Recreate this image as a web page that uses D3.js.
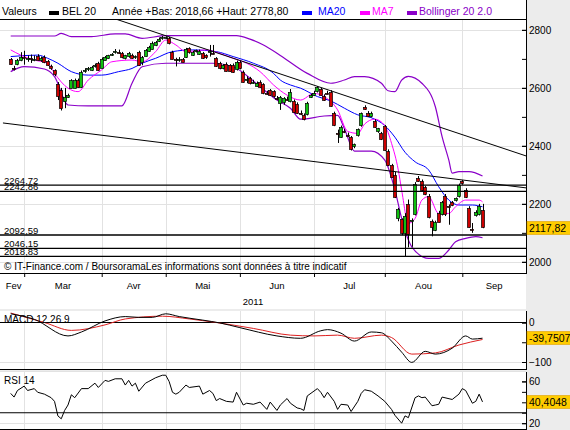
<!DOCTYPE html>
<html>
<head>
<meta charset="utf-8">
<script src="https://cdn.jsdelivr.net/npm/d3@7"></script>
<style>
  body { margin: 0; background: #ececec; }
  svg { font-family: "Liberation Sans", Arial, sans-serif; display: block; }
</style>
</head>
<body>
<div id="container"></div>
<script>
// ---- data (index = trading day from 23 Feb 2011) ----
const monthLabels = ['Fev', 'Mar', 'Avr', 'Mai', 'Jun', 'Jul', 'Aou', 'Sep'];
const monthStarts = [4, 27, 46, 68, 90, 111, 134];
const yearLabel = '2011';

// [open, high, low, close]
const ohlc = [
  [2699,2703,2680,2682],[2668,2676,2660,2666],[2681,2700,2678,2696],[2696,2723,2692,2708],
  [2705,2728,2680,2702],[2700,2712,2690,2703],[2703,2715,2686,2698],[2700,2712,2692,2701],
  [2710,2716,2694,2696],[2697,2708,2690,2703],[2707,2712,2685,2689],[2692,2696,2676,2679],
  [2676,2680,2662,2668],[2660,2664,2640,2645],[2612,2620,2558,2570],[2593,2600,2522,2530],
  [2555,2600,2530,2570],[2570,2580,2565,2576],[2600,2630,2598,2626],[2602,2632,2598,2628],
  [2628,2632,2600,2604],[2604,2660,2600,2656],[2658,2668,2652,2662],[2664,2672,2658,2668],
  [2662,2676,2658,2673],[2676,2684,2670,2680],[2686,2690,2658,2663],[2670,2705,2668,2700],
  [2698,2710,2694,2707],[2702,2714,2700,2712],[2714,2720,2710,2717],[2722,2734,2718,2726],
  [2725,2732,2718,2723],[2720,2724,2702,2706],[2703,2714,2698,2712],[2708,2724,2704,2720],
  [2714,2718,2700,2703],[2704,2712,2700,2709],[2725,2728,2676,2681],[2690,2710,2678,2706],
  [2712,2734,2708,2731],[2728,2745,2724,2742],[2736,2760,2732,2756],[2748,2762,2744,2758],
  [2762,2774,2758,2768],[2770,2778.8,2766,2774],[2774,2778,2768,2775],[2771,2776,2750,2754],
  [2725,2728,2698,2702],[2700,2704,2674,2698],[2698,2706,2690,2700],[2700,2703,2688,2691],
  [2706,2738,2703,2735],[2736,2740,2718,2721],[2713,2728,2710,2725],[2726,2732,2722,2729],
  [2718,2732,2714,2728],[2720,2724,2700,2703],[2712,2716,2700,2704],[2724,2748,2708,2726],
  [2722,2748,2716,2720],[2702,2706,2672,2676],[2686,2690,2664,2668],[2668,2682,2664,2680],
  [2684,2688,2656,2660],[2678,2682,2656,2659],[2680,2684,2652,2655],[2666,2694,2660,2690],
  [2690,2694,2664,2668],[2656,2660,2618,2622],[2626,2640,2616,2630],[2633,2638,2612,2616],
  [2620,2628,2614,2622],[2608,2622,2604,2618],[2622,2626,2600,2605],[2612,2616,2578,2582],
  [2583,2590,2576,2580],[2592,2596,2572,2576],[2588,2592,2566,2570],[2566,2572,2558,2563],
  [2548,2572,2524,2568],[2550,2568,2542,2565],[2562,2570,2556,2560],[2553,2596,2550,2585],
  [2556,2560,2514,2518],[2546,2550,2510,2514],[2515,2522,2506,2512],[2507,2512,2488,2493],
  [2510,2552,2505,2548],[2570,2580,2565,2576],[2578,2590,2572,2584],[2587,2606,2584,2602],
  [2597,2600,2574,2577],[2572,2578,2555,2558],[2584,2590,2578,2582],[2587,2592,2535,2538],
  [2514,2518,2468,2472],[2446,2456,2410,2442],[2432,2470,2428,2466],[2452,2458,2444,2450],
  [2438,2446,2430,2436],[2429,2434,2384,2389],[2397,2408,2392,2405],[2436,2460,2432,2457],
  [2470,2515,2466,2512],[2535,2540,2524,2527],[2514,2520,2500,2503],[2503,2518,2498,2514],
  [2487,2492,2462,2465],[2449,2462,2445,2460],[2443,2448,2420,2423],[2469,2472,2382,2386],
  [2383,2388,2330,2334],[2334,2338,2290,2294],[2300,2310,2220,2225],[2150,2186,2140,2182],
  [2147,2150,2092,2098],[2098,2168,2018.66,2158],[2200,2215,2050,2098],[2140,2150,2052,2144],
  [2165,2275,2160,2268],[2290,2296,2276,2280],[2280,2284,2244,2248],[2257,2262,2230,2234],
  [2228,2234,2150,2155],[2140,2146,2088,2120],[2112,2142,2106,2138],[2170,2176,2136,2140],
  [2164,2210,2160,2205],[2228,2234,2158,2165],[2192,2198,2128,2188],[2205,2210,2192,2196],
  [2212,2222,2208,2219],[2226,2270,2222,2265],[2278,2282,2266,2270],[2248,2254,2220,2224],
  [2186,2192,2118,2122],[2114,2134,2100,2112],[2160,2178,2156,2172],[2166,2200,2160,2192],
  [2178,2200,2116,2117.82]
];

// [index, value]
const ma20 = [[0,2708],[8,2713],[11,2702],[14,2685],[18,2656],[23,2644],[27,2644],[32,2656],
  [36,2667],[39,2685],[43,2702],[48,2725],[54,2731],[61,2725],[66,2708],[72,2685],[78,2650],
  [80,2627],[83,2610],[86,2599],[91,2570],[95,2555],[99,2530],[103,2507],[107,2497],[111,2470],
  [114,2430],[117,2378],[120,2345],[124,2317],[127,2259],[130,2213],[133,2196],[137,2196],[140,2190]];
const ma7 = [[0,2731],[3,2713],[7,2696],[11,2685],[13,2650],[17,2599],[20,2587],[23,2627],
  [27,2662],[30,2690],[36,2696],[39,2690],[43,2725],[46,2765],[49,2748],[52,2725],[58,2731],
  [62,2719],[66,2702],[70,2685],[74,2656],[78,2610],[82,2575],[86,2558],[90,2581],[93,2570],
  [97,2524],[100,2450],[103,2443],[105,2475],[108,2492],[111,2470],[113,2409],[115,2317],
  [116,2248],[118,2133],[120,2150],[122,2213],[124,2225],[127,2167],[130,2167],[132,2190],
  [135,2213],[139,2213],[140,2207]];
const bbUpper = [[0,2779],[13,2779],[15,2788],[18,2777],[24,2777],[31,2786],[34,2786],[39,2771],
  [46,2780],[67,2780],[71,2768],[75,2748],[80,2712],[88,2650],[95,2616],[99,2627],[102,2639],
  [105,2639],[110,2616],[112,2590],[114,2587],[116,2627],[118,2640],[122,2616],[126,2535],
  [128,2432],[130,2351],[131,2306],[133,2311],[136,2311],[140,2296]];
const bbLower = [[0,2656],[4,2673],[10,2665],[13,2639],[17,2541],[23,2538],[33,2538],[36,2616],
  [39,2673],[46,2685],[60,2685],[66,2673],[74,2604],[79,2558],[83,2530],[86,2492],[93,2503],
  [97,2505],[99,2460],[102,2382],[107,2382],[111,2351],[114,2248],[116,2150],[118,2075],
  [119,2052],[124,2012],[127,2012],[130,2041],[132,2069],[135,2081],[138,2087],[140,2083]];

const supportLevels = [2264.72, 2242.86, 2092.59, 2046.15, 2018.83];
const trendLines = [
  [[31, 2838], [153, 2365]],
  [[-2.3, 2479], [153, 2255]]
];
const priceMajor = [2000, 2200, 2400, 2600, 2800];
const priceMinor = [2000, 2100, 2200, 2300, 2400, 2500, 2600, 2700, 2800];

const macd = [[0,22],[7,8],[17,-34],[21,-24],[28,4],[34,15],[38,13],[42,13],[46,22],[50,15],
  [57,6],[62,-1],[68,-13],[79,-34],[86,-40],[92,-21],[94,-18],[98,-27],[102,-47],[107,-24],
  [110,-26],[113,-47],[116,-75],[119,-101],[123,-73],[126,-80],[131,-65],[135,-34],[137,-42],
  [140,-39.75]];
const macdSignal = [[0,24],[10,0],[18,-20],[28,-6],[34,9],[45,16],[53,9],[61,0],[72,-15],
  [83,-32],[90,-34],[97,-32],[102,-40],[110,-32],[113,-38],[119,-80],[126,-77],[133,-57],[140,-43]];
const macdTicks = [0, -50, -100];
const macdLabels = [0, -100];

const rsi = [[0,48.5],[1,45],[2,51.3],[4,55.5],[5,51.3],[7,53.1],[8,49.6],[10,47.8],[12,44.4],
  [13,40.9],[14,27],[15,24.2],[16,32.2],[17,37.4],[18,47.2],[19,44.4],[21,53.1],[23,53.1],
  [25,58.3],[26,54.2],[28,61],[29,60],[31,62.5],[33,62.5],[34,56.5],[35,61],[36,55.5],
  [37,58.3],[38,50.6],[40,58.3],[41,60],[43,63.5],[45,65.9],[46,65.9],[47,60],[48,49.6],
  [49,47.8],[50,49.6],[52,56.5],[53,54.2],[56,55.5],[57,47.8],[59,51.3],[60,48.5],[61,41.6],
  [62,43.6],[64,40.9],[66,40.2],[67,49.6],[69,37.4],[70,39.1],[72,38.1],[74,40.2],[76,33.2],
  [77,40.2],[79,32.2],[80,37.4],[82,43.6],[83,39.1],[85,34.6],[86,33.9],[87,32.2],[88,46.1],
  [91,53.1],[92,49.6],[93,44.4],[94,49.6],[96,40.9],[97,33.2],[98,38.1],[100,37.4],[101,31.2],
  [103,40.9],[104,48.5],[105,52],[107,50.6],[109,46.1],[111,40.9],[113,33.2],[114,27.6],
  [116,20],[117,27],[118,25.3],[120,44.4],[121,46.1],[122,44.4],[123,45],[125,36.7],[126,37.4],
  [127,38.1],[128,45],[131,42.7],[133,47.8],[134,53.1],[135,51.3],[137,39.1],[138,40.9],
  [139,47.8],[140,40.4048]];
const rsiTicks = [20, 30, 40, 50, 60];
const rsiLabels = [20, 60];
const rsiLevel = 30;

const lastClose = 2117.82;
const lastMacd = -39.7507;
const lastRsi = 40.4048;

// ---- layout ----
const width = 570, height = 430;
const plotRight = 526;
const mainBox = { top: 19, bottom: 273 };
const macdBox = { top: 311, bottom: 369 };
const rsiBox = { top: 372, bottom: 429 };
const colors = { up: '#10c010', down: '#cc0000', ma20: '#0000ff', ma7: '#ff00ff', bb: '#8a00c8',
  grid: '#e2e2e2', box: '#ffcc00' };

const x = d3.scaleLinear().domain([-3.175, 152.9]).range([0, plotRight]);
const y = d3.scaleLinear().domain([1965, 2841]).range([272, 18]);
const yMacd = d3.scaleLinear().domain([0, -100]).range([322.5, 362]);
const yRsi = d3.scaleLinear().domain([60, 20]).range([381.4, 423.2]);

const comma = (v, n) => v.toFixed(n).replace('.', ',');
const crisp = v => Math.round(v) + 0.5;

const svg = d3.select('#container').append('svg')
  .attr('width', width).attr('height', height);

svg.append('rect').attr('width', width).attr('height', height).attr('fill', '#ececec');

const defs = svg.append('defs');
[['clipMain', mainBox], ['clipMacd', macdBox], ['clipRsi', rsiBox]].forEach(([id, b]) => {
  defs.append('clipPath').attr('id', id).append('rect')
    .attr('x', 0).attr('y', b.top).attr('width', plotRight).attr('height', b.bottom - b.top);
});

// white panels
svg.append('rect').attr('x', 0).attr('y', 0).attr('width', plotRight).attr('height', 309).attr('fill', '#fff');
[macdBox, rsiBox].forEach(b => {
  svg.append('rect').attr('x', 0).attr('y', b.top).attr('width', plotRight)
    .attr('height', b.bottom - b.top).attr('fill', '#fff');
});

// vertical month grid in every panel
[mainBox, macdBox, rsiBox].forEach(b => {
  svg.append('g').selectAll('line').data(monthStarts).enter().append('line')
    .attr('x1', d => crisp(x(d))).attr('x2', d => crisp(x(d)))
    .attr('y1', b.top).attr('y2', b.bottom)
    .attr('stroke', colors.grid);
});

// horizontal grids
svg.append('g').selectAll('line').data(priceMajor).enter().append('line')
  .attr('x1', 0).attr('x2', plotRight)
  .attr('y1', d => crisp(y(d))).attr('y2', d => crisp(y(d)))
  .attr('stroke', colors.grid);
[yMacd(-100), yRsi(20), yRsi(70)].forEach(gy => {
  svg.append('line').attr('x1', 0).attr('x2', plotRight).attr('y1', crisp(gy)).attr('y2', crisp(gy))
    .attr('stroke', colors.grid);
});

// ---- main panel ----
const mainG = svg.append('g').attr('clip-path', 'url(#clipMain)');

const priceLine = d3.line().x(d => x(d[0])).y(d => y(d[1])).curve(d3.curveMonotoneX);
[[bbUpper, colors.bb, 1.2], [bbLower, colors.bb, 1.2], [ma20, colors.ma20, 1], [ma7, colors.ma7, 1]]
  .forEach(([data, c, w]) => {
    mainG.append('path').datum(data).attr('d', priceLine)
      .attr('fill', 'none').attr('stroke', c).attr('stroke-width', w);
  });

const candles = mainG.append('g').selectAll('g').data(ohlc).enter().append('g');
candles.append('line')
  .attr('x1', (d, i) => crisp(x(i))).attr('x2', (d, i) => crisp(x(i)))
  .attr('y1', d => y(d[1])).attr('y2', d => y(d[2]))
  .attr('stroke', '#000');
candles.append('rect')
  .attr('x', (d, i) => Math.round(x(i)) - 1.5)
  .attr('y', d => Math.round(y(Math.max(d[0], d[3]))) + 0.5)
  .attr('width', 3)
  .attr('height', d => Math.max(1, Math.round(Math.abs(y(d[0]) - y(d[3])))))
  .attr('fill', d => d[3] >= d[0] ? colors.up : colors.down)
  .attr('stroke', '#000').attr('stroke-width', 0.7);

// support lines with labels
mainG.append('g').selectAll('line').data(supportLevels).enter().append('line')
  .attr('x1', 0).attr('x2', plotRight)
  .attr('y1', d => y(d)).attr('y2', d => y(d))
  .attr('stroke', '#000').attr('stroke-width', 1.3);
svg.append('g').selectAll('text').data(supportLevels).enter().append('text')
  .attr('x', 4).attr('y', d => y(d) - 1.5)
  .attr('font-size', 9.5).attr('fill', '#000')
  .text(d => comma(d, 2));

// trend lines
const straight = d3.line().x(d => x(d[0])).y(d => y(d[1]));
mainG.append('g').selectAll('path').data(trendLines).enter().append('path')
  .attr('d', straight).attr('fill', 'none').attr('stroke', '#000').attr('stroke-width', 1);

svg.append('text').attr('x', 4).attr('y', 270).attr('font-size', 10).attr('fill', '#000')
  .text('\u00a9 IT-Finance.com / BoursoramaLes informations sont données à titre indicatif');

// header
svg.append('line').attr('x1', 0).attr('x2', plotRight).attr('y1', 19.5).attr('y2', 19.5).attr('stroke', '#000');
const header = svg.append('g').attr('font-size', 10.5);
header.append('text').attr('x', 2).attr('y', 15).text('Valeurs');
header.append('rect').attr('x', 49).attr('y', 11).attr('width', 10).attr('height', 4).attr('fill', '#000');
header.append('text').attr('x', 62).attr('y', 15).text('BEL 20');
header.append('text').attr('x', 112).attr('y', 15).text('Année +Bas: 2018,66 +Haut: 2778,80');
[[302, 318, 'MA20', colors.ma20], [360, 372, 'MA7', colors.ma7], [407, 419, 'Bollinger 20 2.0', colors.bb]]
  .forEach(([rx, tx, label, c]) => {
    header.append('rect').attr('x', rx).attr('y', 11).attr('width', 10).attr('height', 4).attr('fill', c);
    header.append('text').attr('x', tx).attr('y', 15).attr('fill', c).text(label);
  });

// x axis
svg.append('line').attr('x1', 0).attr('x2', plotRight).attr('y1', mainBox.bottom + 0.5).attr('y2', mainBox.bottom + 0.5)
  .attr('stroke', '#000');
const xAxis = svg.append('g').attr('transform', `translate(0,${mainBox.bottom})`)
  .call(d3.axisBottom(x).tickValues(monthStarts).tickSize(4).tickSizeOuter(0).tickFormat(''));
xAxis.select('.domain').remove();
const edges = [x(-2.3)].concat(monthStarts.map(x), [plotRight]);
svg.append('g').selectAll('text').data(monthLabels).enter().append('text')
  .attr('x', (d, i) => (edges[i] + edges[i + 1]) / 2).attr('y', 289)
  .attr('text-anchor', 'middle').attr('font-size', 9.5).text(d => d);
svg.append('text').attr('x', 253).attr('y', 305).attr('text-anchor', 'middle').attr('font-size', 9.5).text(yearLabel);

// right price axis
const priceAxisG = svg.append('g').attr('transform', `translate(${plotRight},0)`).attr('font-size', 10);
priceAxisG.append('g').call(d3.axisRight(y).tickValues(priceMinor).tickSize(-4).tickFormat(''));
priceAxisG.append('g').call(d3.axisRight(y).tickValues(priceMajor).tickSize(-4).tickPadding(3).tickFormat(d3.format('d')));

// ---- MACD panel ----
const macdG = svg.append('g').attr('clip-path', 'url(#clipMacd)');
macdG.append('line').attr('x1', 0).attr('x2', plotRight).attr('y1', yMacd(0)).attr('y2', yMacd(0))
  .attr('stroke', '#000').attr('stroke-width', 1.2);
const macdLine = d3.line().x(d => x(d[0])).y(d => yMacd(d[1])).curve(d3.curveMonotoneX);
macdG.append('path').datum(macdSignal).attr('d', macdLine).attr('fill', 'none').attr('stroke', '#dd2020');
macdG.append('path').datum(macd).attr('d', macdLine).attr('fill', 'none').attr('stroke', '#000');
svg.append('text').attr('x', 4).attr('y', 323).attr('font-size', 10).text('MACD 12 26 9');
const macdAxisG = svg.append('g').attr('transform', `translate(${plotRight},0)`).attr('font-size', 10);
macdAxisG.append('g').call(d3.axisRight(yMacd).tickValues(macdTicks).tickSize(-4).tickFormat(''));
macdAxisG.append('g').call(d3.axisRight(yMacd).tickValues(macdLabels).tickSize(-4).tickPadding(3).tickFormat(d3.format('d')));

// ---- RSI panel ----
const rsiG = svg.append('g').attr('clip-path', 'url(#clipRsi)');
rsiG.append('line').attr('x1', 0).attr('x2', plotRight).attr('y1', yRsi(rsiLevel)).attr('y2', yRsi(rsiLevel))
  .attr('stroke', '#000').attr('stroke-width', 1.2);
rsiG.append('path').datum(rsi).attr('d', d3.line().x(d => x(d[0])).y(d => yRsi(d[1])))
  .attr('fill', 'none').attr('stroke', '#000');
svg.append('text').attr('x', 4).attr('y', 384).attr('font-size', 10).text('RSI 14');
const rsiAxisG = svg.append('g').attr('transform', `translate(${plotRight},0)`).attr('font-size', 10);
rsiAxisG.append('g').call(d3.axisRight(yRsi).tickValues(rsiTicks).tickSize(-4).tickFormat(''));
rsiAxisG.append('g').call(d3.axisRight(yRsi).tickValues(rsiLabels).tickSize(-4).tickPadding(3).tickFormat(d3.format('d')));

[priceAxisG, macdAxisG, rsiAxisG].forEach(g => g.selectAll('.domain').remove());

// panel borders
[[mainBox, 0], [macdBox, macdBox.top], [rsiBox, rsiBox.top]].forEach(([b, top]) => {
  svg.append('line').attr('x1', plotRight + 0.5).attr('x2', plotRight + 0.5).attr('y1', top).attr('y2', b.bottom + 1)
    .attr('stroke', '#000');
});
[macdBox, rsiBox].forEach(b => {
  svg.append('line').attr('x1', 0).attr('x2', plotRight + 1).attr('y1', b.bottom + 0.5).attr('y2', b.bottom + 0.5)
    .attr('stroke', '#000');
});

// last value boxes
[[y(lastClose), comma(lastClose, 2)], [yMacd(lastMacd), comma(lastMacd, 4)], [yRsi(lastRsi), comma(lastRsi, 4)]]
  .forEach(([cy, label]) => {
    svg.append('rect').attr('x', plotRight + 1).attr('y', Math.round(cy) - 6.5).attr('width', 44).attr('height', 13)
      .attr('fill', colors.box).attr('stroke', '#e0a000').attr('stroke-width', 0.6);
    svg.append('text').attr('x', plotRight + 3).attr('y', Math.round(cy) + 4).attr('font-size', 10.5).text(label);
  });
</script>
</body>
</html>
